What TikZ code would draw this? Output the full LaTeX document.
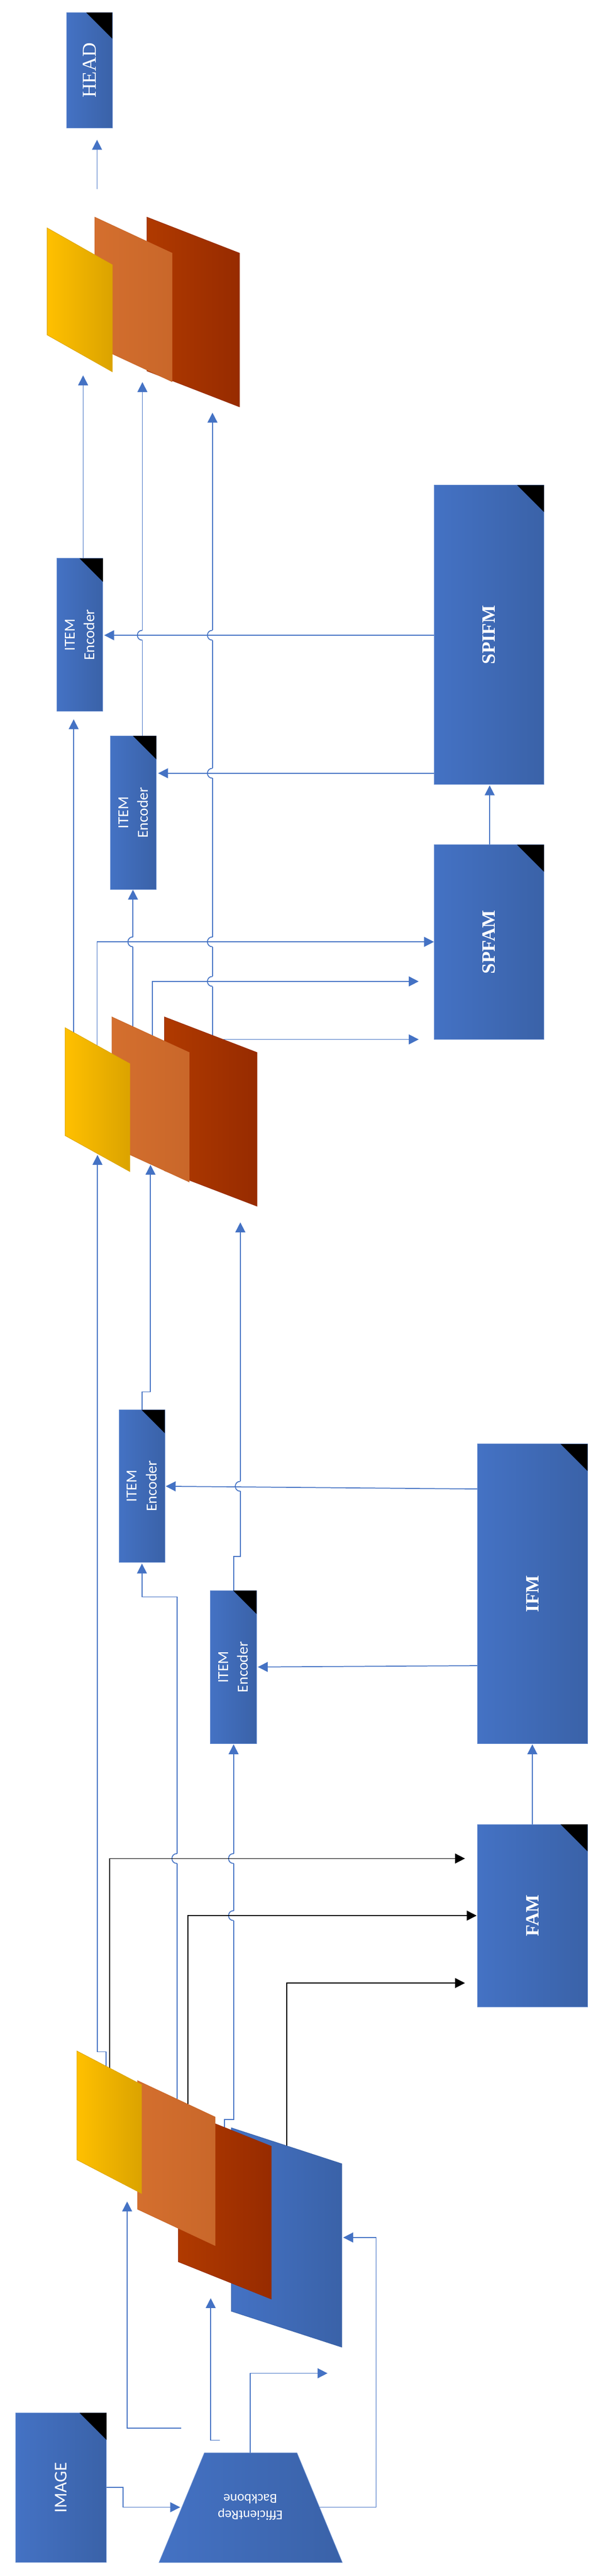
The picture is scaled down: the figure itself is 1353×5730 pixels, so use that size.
\documentclass[tikz,border=0pt]{standalone}
\usepackage{fontspec}
\setmainfont{Liberation Serif}
\newfontfamily\carl{Carlito}
\usetikzlibrary{arrows.meta}
\definecolor{bl}{HTML}{4472C4}
\definecolor{bxL}{HTML}{4472C4}
\definecolor{bxD}{HTML}{3A62A8}
\definecolor{yeL}{HTML}{FFC000}
\definecolor{yeD}{HTML}{DBA300}
\definecolor{orL}{HTML}{D46F2E}
\definecolor{orD}{HTML}{C9672A}
\definecolor{reL}{HTML}{B03A00}
\definecolor{reD}{HTML}{972B00}
\tikzset{
  ln/.style={draw=bl,line width=1pt},
  bk/.style={draw=black,line width=1pt},
  arr/.style={-{Triangle[length=11pt,width=11pt]}},
  lbl/.style={text=white,rotate=90,align=center,inner sep=0pt},
  itf/.style={font=\carl\fontsize{17}{22}\selectfont},
  tf/.style={font=\bfseries\fontsize{21}{24}\selectfont},
}
\newcommand\bx[8]{%
  \shade[left color=bxL,right color=bxD,draw=bxL!80!white,line width=0.5pt] (#2,#3) rectangle (#4,#5);
  \fill[black] ({#4-#6},#3) -- (#4,#3) -- (#4,{#3+#6}) -- cycle;
  \node[lbl,#7] (#1) at ({(#2+#4)/2},{(#3+#5)/2}) {#8};}
\newcommand\para[7]{%
  \shade[left color=#6L,right color=#6D,draw=#6D,line width=0.5pt] (#1,#2) -- (#3,#4) -- (#3,{#4+#5}) -- (#1,{#2+#5}) -- cycle;
  \coordinate (#7) at ({(#1+#3)/2},{(#2+#4)/2});}
\newcommand\jmp[2]{%
  \fill[white] ({#1-4},{#2-11}) rectangle ({#1+4},{#2+11});
  \draw[ln] (#1,{#2-11}) .. controls ({#1-15},{#2-11}) and ({#1-15},{#2+11}) .. (#1,{#2+11});}
\begin{document}
\begin{tikzpicture}[x=0.5pt,y=-0.5pt]
\useasboundingbox (0,0) rectangle (1353,5730);
\fill[white] (0,0) rectangle (1353,5730);

% ---------- jumping vertical lines
\draw[ln,arr] (473,2303) -- (473,918);
\draw[ln,arr] (317,1637) -- (317,850);
\draw[ln,arr] (296,2284) -- (296,1979);
\draw[ln,arr] (520,3538) -- (520,3462) -- (535,3462) -- (535,2719);
\draw[ln,arr] (394,4669) -- (394,3552) -- (316,3552) -- (316,3478);
\draw[ln,arr] (500,4760) -- (500,4715) -- (520,4715) -- (520,3880);
\jmp{473}{2183}\jmp{473}{2095}\jmp{473}{1720}\jmp{473}{1413}
\jmp{317}{1413}\jmp{296}{2095}\jmp{535}{3306}
\jmp{394}{4134}\jmp{520}{4134}\jmp{520}{4261}

% ---------- other connectors
\draw[ln,arr] (966,1413) -- (232,1413);
\draw[ln,arr] (966,1720) -- (352,1720);
\draw[ln,arr] (216,2325) -- (216,2095) -- (966,2095);
\draw[ln,arr] (339,2303) -- (339,2183) -- (932,2183);
\draw[ln,arr] (473,2312) -- (932,2312);
\draw[ln,arr] (1063,3312) -- (369,3306);
\draw[ln,arr] (1063,3705) -- (574,3708);
\draw[bk,arr] (244,4600) -- (244,4134) -- (1035,4134);
\draw[bk,arr] (418,4680) -- (418,4261) -- (1061,4261);
\draw[bk,arr] (638,4773) -- (638,4411) -- (1035,4411);
\draw[ln,arr] (236,4600) -- (236,4564) -- (217,4564) -- (217,2569);
\draw[ln,arr] (316,3136) -- (316,3096) -- (335,3096) -- (335,2591);
\draw[ln,arr] (1185,4058) -- (1185,3880);
\draw[ln,arr] (1090,1879) -- (1090,1747);
\draw[ln,arr] (185,1242) -- (185,835);
\draw[ln,arr] (164,2296) -- (164,1600);
\draw[ln,arr] (216,420) -- (216,311);
\draw[ln,arr] (557,5456) -- (557,5279) -- (729,5279);
\draw[ln,arr] (712,5577) -- (837,5577) -- (837,4977) -- (764,4977);
\draw[ln,arr] (237,5533) -- (274,5533) -- (274,5577) -- (401,5577);
\draw[ln,arr] (403,5401) -- (283,5401) -- (283,4897);
\draw[ln,arr] (489,5428) -- (469,5428) -- (469,5112);

% ---------- feature stacks
\para{327}{483}{533}{563}{342}{re}{tr}
\para{211}{483}{383}{563}{286}{or}{to}
\para{105}{507}{250}{589}{238}{ye}{ty}
\para{366}{2262}{572}{2341}{342}{re}{mr}
\para{249}{2262}{421}{2341}{288}{or}{mo}
\para{145}{2286}{289}{2366}{240}{ye}{my}
\para{515}{4733}{761}{4813}{408}{bx}{bb}
\para{397}{4691}{604}{4774}{340}{re}{br}
\para{306}{4628}{479}{4709}{286}{or}{bo}
\para{171}{4562}{315}{4637}{242}{ye}{by}

% ---------- boxes
\bx{head}{148}{28}{250}{285}{58}{font=\fontsize{22}{24}\selectfont}{HEAD}
\bx{item1}{127}{1242}{229}{1582}{52}{itf}{ITEM\\Encoder}
\bx{item2}{246}{1637}{348}{1978}{52}{itf}{ITEM\\Encoder}
\bx{item3}{265}{3136}{367}{3475}{52}{itf}{ITEM\\Encoder}
\bx{item4}{468}{3538}{571}{3878}{52}{itf}{ITEM\\Encoder}
\bx{spifm}{966}{1079}{1211}{1745}{60}{tf}{SPIFM}
\bx{spfam}{966}{1879}{1211}{2312}{60}{tf}{SPFAM}
\bx{ifm}{1063}{3212}{1308}{3878}{60}{tf}{IFM}
\bx{fam}{1063}{4058}{1308}{4464}{60}{tf}{FAM}
\bx{image}{35}{5367}{237}{5700}{60}{font=\carl\fontsize{20}{22}\selectfont}{IMAGE}

% ---------- backbone
\shade[left color=bxL,right color=bxD,draw=bxL!80!white,line width=0.5pt] (455,5456) -- (661,5456) -- (762,5700) -- (354,5700) -- cycle;
\node[text=white,rotate=180,align=center,inner sep=0pt,font=\carl\fontsize{15}{18}\selectfont] (bbone) at (557,5577) {EfficientRep\\Backbone};
\end{tikzpicture}
\end{document}
